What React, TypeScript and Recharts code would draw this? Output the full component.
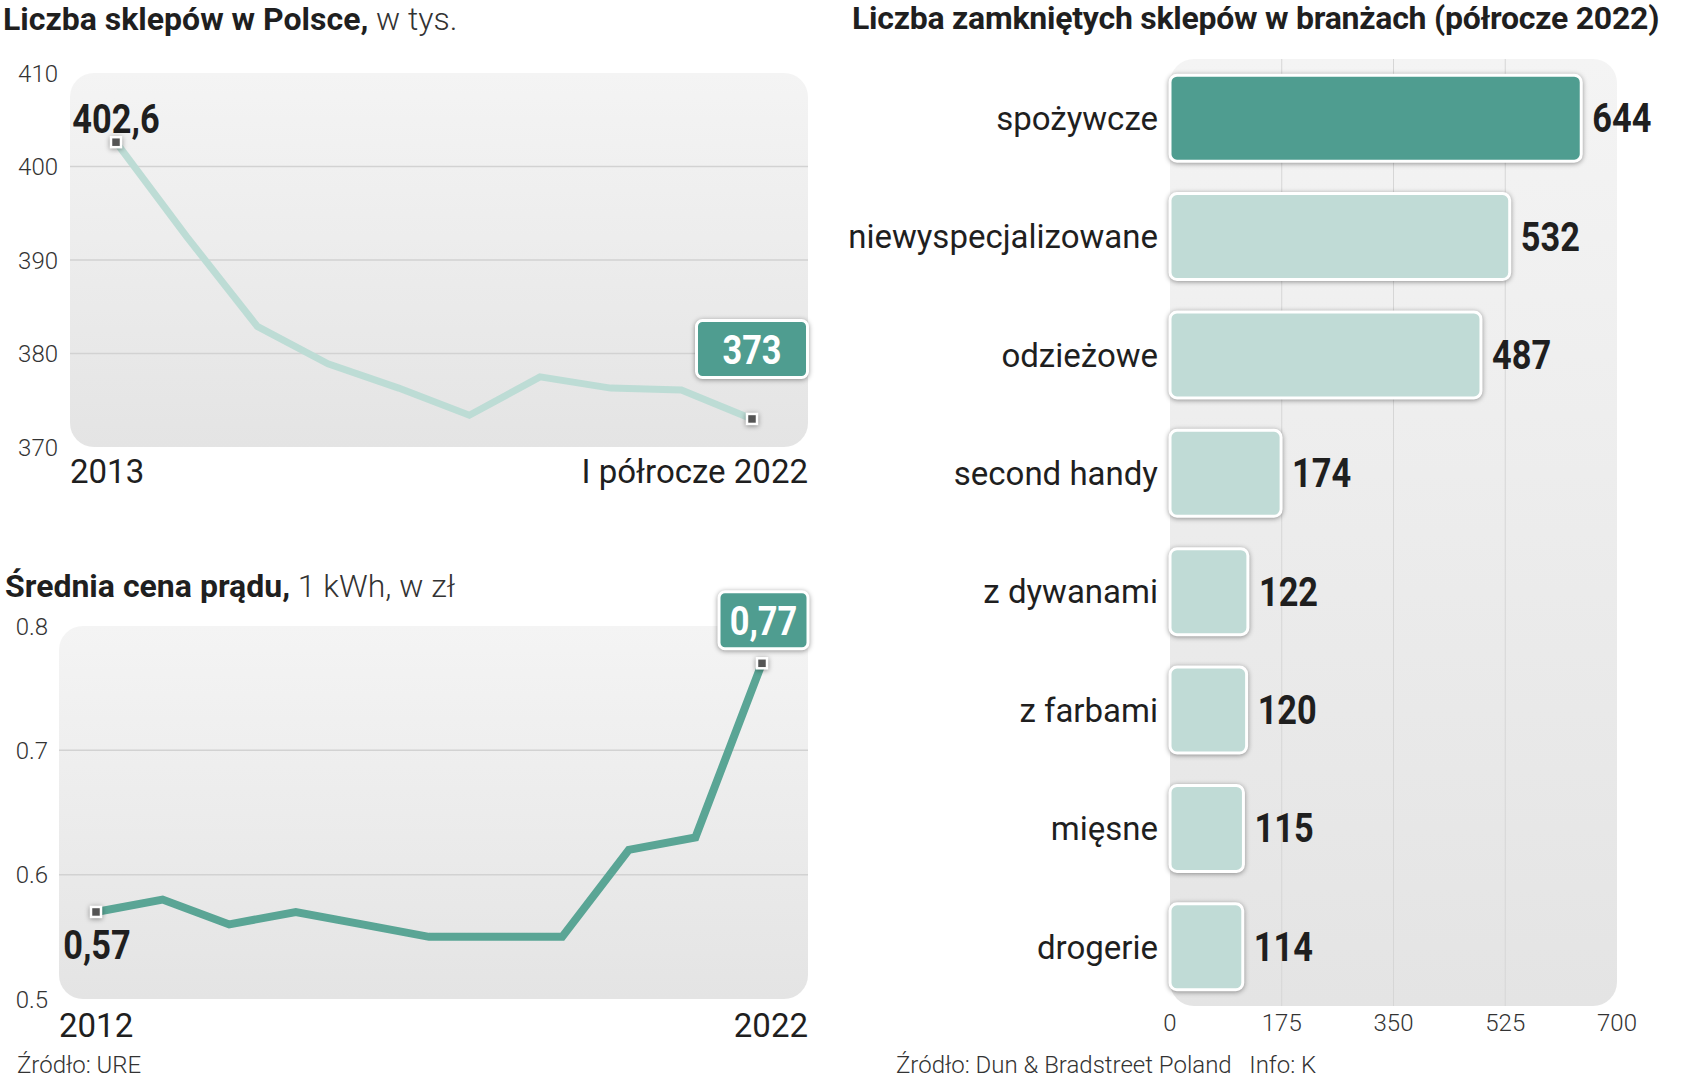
import React from "react";
import {
  Bar,
  BarChart,
  CartesianGrid,
  Cell,
  LabelList,
  Line,
  LineChart,
  ReferenceArea,
  XAxis,
  YAxis,
} from "recharts";

// Liczba sklepów w Polsce, w tys.
const lataSklepy = ["2013", "2014", "2015", "2016", "2017", "2018", "2019", "2020", "2021", "I półrocze 2022"];
const liczbaSklepow = [402.6, 392.5, 382.9, 378.9, 376.3, 373.4, 377.5, 376.3, 376.1, 373];
const ticksSklepy = [370, 380, 390, 400, 410];
const siatkaSklepy = [380, 390, 400];

// Średnia cena prądu, 1 kWh, w zł
const lataPrad = ["2012", "2013", "2014", "2015", "2016", "2017", "2018", "2019", "2020", "2021", "2022"];
const cenaPradu = [0.57, 0.58, 0.56, 0.57, 0.56, 0.55, 0.55, 0.55, 0.62, 0.63, 0.77];
const ticksPrad = [0.5, 0.6, 0.7, 0.8];
const siatkaPrad = [0.6, 0.7];

// Liczba zamkniętych sklepów w branżach (półrocze 2022)
const branze = ["spożywcze", "niewyspecjalizowane", "odzieżowe", "second handy", "z dywanami", "z farbami", "mięsne", "drogerie"];
const zamkniete = [644, 532, 487, 174, 122, 120, 115, 114];
const ticksBranze = [0, 175, 350, 525, 700];
const siatkaBranze = [175, 350, 525];

const dataSklepy = lataSklepy.map((rok, i) => ({ rok, v: liczbaSklepow[i] }));
const dataPrad = lataPrad.map((rok, i) => ({ rok, v: cenaPradu[i] }));
const dataBranze = branze.map((name, i) => ({ name, v: zamkniete[i] }));

const SANS = "Roboto, 'Noto Sans', sans-serif";
const INK = "#1f1f1f";
const SOFT = "#333";
const TEAL = "#4f9d90";
const TEAL_LINE = "#5aa595";
const MINT = "#c0dbd6";
const MINT_LINE = "#bddcd5";
const SHADOW = "drop-shadow(0px 1px 2.5px rgba(0,0,0,0.4))";
const SQUEEZE = 0.86; // bold numbers in the original are condensed

const fmt = (v: number) => String(v).replace(".", ",");

const axisTick = { fontSize: 24, fontWeight: 300, fill: SOFT, fontFamily: SANS };

function Background({ id }: { id: string }) {
  return (
    <defs>
      <linearGradient id={id} x1="0" y1="0" x2="0" y2="1">
        <stop offset="0%" stopColor="#f4f4f4" />
        <stop offset="100%" stopColor="#e4e4e4" />
      </linearGradient>
    </defs>
  );
}

// plot background, widened by the axis padding so it covers the whole plot
const roundedBg = (id: string, padL = 0, padR = 0) => (p: any) => (
  <rect
    x={p.x - padL}
    y={p.y}
    width={p.width + padL + padR}
    height={p.height}
    rx={24}
    ry={24}
    fill={`url(#${id})`}
  />
);

function BoldNum({ x, y, text, fill = INK, anchor = "middle" }: { x: number; y: number; text: string; fill?: string; anchor?: string }) {
  return (
    <text
      transform={`translate(${x} ${y}) scale(${SQUEEZE} 1)`}
      textAnchor={anchor as any}
      fontSize={40}
      fontWeight={700}
      fill={fill}
      fontFamily={SANS}
    >
      {text}
    </text>
  );
}

// first / last category label pinned to the plot edges
const edgeTick = (first: string, last: string, padL: number, padR: number, dy: number) => (p: any) => {
  const val = p.payload.value;
  const isLast = val === last;
  if (val !== first && !isLast) return <g />;
  return (
    <text
      x={isLast ? p.x + padR : p.x - padL}
      y={p.y}
      dy={dy}
      textAnchor={isLast ? "end" : "start"}
      fontSize={33}
      fontWeight={400}
      fill={INK}
      fontFamily={SANS}
    >
      {val}
    </text>
  );
};

function Marker({ cx, cy }: { cx: number; cy: number }) {
  return (
    <rect x={cx - 5} y={cy - 5} width={10} height={10} fill="#555" stroke="#fff" strokeWidth={2.5} style={{ filter: SHADOW }} />
  );
}

function ValueBox({ cx, cy, w, h, text }: { cx: number; cy: number; w: number; h: number; text: string }) {
  return (
    <g>
      <rect x={cx - w / 2} y={cy - h / 2} width={w} height={h} rx={6} fill={TEAL} stroke="#fff" strokeWidth={3} style={{ filter: SHADOW }} />
      <BoldNum x={cx} y={cy + 15} text={text} fill="#fff" />
    </g>
  );
}

const dotSklepy = (p: any) => {
  const { cx, cy, index, value } = p;
  const n = liczbaSklepow.length;
  if (index === 0) {
    return (
      <g key={`d${index}`}>
        <BoldNum x={cx} y={cy - 9} text={fmt(value)} />
        <Marker cx={cx} cy={cy} />
      </g>
    );
  }
  if (index === n - 1) {
    return (
      <g key={`d${index}`}>
        <ValueBox cx={cx} cy={cy - 70} w={111} h={57} text={fmt(value)} />
        <Marker cx={cx} cy={cy} />
      </g>
    );
  }
  return <g key={`d${index}`} />;
};

const dotPrad = (p: any) => {
  const { cx, cy, index, value } = p;
  const n = cenaPradu.length;
  if (index === 0) {
    return (
      <g key={`d${index}`}>
        <BoldNum x={cx + 1} y={cy + 47} text={fmt(value)} />
        <Marker cx={cx} cy={cy} />
      </g>
    );
  }
  if (index === n - 1) {
    return (
      <g key={`d${index}`}>
        <ValueBox cx={cx + 1.5} cy={cy - 43} w={89} h={57} text={fmt(value)} />
        <Marker cx={cx} cy={cy} />
      </g>
    );
  }
  return <g key={`d${index}`} />;
};

const barShape = (p: any) => (
  <rect
    x={p.x}
    y={p.y}
    width={p.width}
    height={p.height}
    rx={7}
    ry={7}
    fill={p.fill}
    stroke="#fff"
    strokeWidth={3}
    style={{ filter: SHADOW }}
  />
);

const barLabel = (p: any) => {
  const vb = p.viewBox || p;
  const x = (vb.x ?? p.x) + (vb.width ?? p.width) + 11;
  const y = (vb.y ?? p.y) + (vb.height ?? p.height) / 2 + 14;
  return <BoldNum x={x} y={y} text={String(p.value)} anchor="start" />;
};

const PAD1 = { left: 46, right: 56 };
const PAD2 = { left: 37, right: 46 };

function SklepyChart() {
  return (
    <LineChart width={830} height={500} data={dataSklepy} margin={{ top: 73, right: 22, bottom: 0, left: 0 }}>
      <Background id="bg1" />
      <ReferenceArea y1={370} y2={410} zIndex={-200} shape={roundedBg("bg1", PAD1.left, PAD1.right)} />
      <CartesianGrid vertical={false} horizontalValues={siatkaSklepy} stroke="#d2d2d2" strokeWidth={1.5} />
      <XAxis
        dataKey="rok"
        type="category"
        padding={PAD1}
        ticks={[lataSklepy[0], lataSklepy[lataSklepy.length - 1]]}
        interval={0}
        height={53}
        tickSize={0}
        tickMargin={0}
        axisLine={false}
        tickLine={false}
        tick={edgeTick(lataSklepy[0], lataSklepy[lataSklepy.length - 1], PAD1.left, PAD1.right, 36)}
      />
      <YAxis
        type="number"
        domain={[370, 410]}
        ticks={ticksSklepy}
        interval={0}
        width={70}
        tickSize={0}
        tickMargin={12}
        axisLine={false}
        tickLine={false}
        tick={axisTick}
      />
      <Line
        type="linear"
        dataKey="v"
        stroke={MINT_LINE}
        strokeWidth={7}
        dot={dotSklepy}
        activeDot={false}
        isAnimationActive={false}
      />
    </LineChart>
  );
}

function PradChart() {
  return (
    <LineChart width={830} height={540} data={dataPrad} margin={{ top: 86, right: 22, bottom: 0, left: 0 }}>
      <Background id="bg2" />
      <ReferenceArea y1={0.5} y2={0.8} zIndex={-200} shape={roundedBg("bg2", PAD2.left, PAD2.right)} />
      <CartesianGrid vertical={false} horizontalValues={siatkaPrad} stroke="#d2d2d2" strokeWidth={1.5} />
      <XAxis
        dataKey="rok"
        type="category"
        padding={PAD2}
        ticks={[lataPrad[0], lataPrad[lataPrad.length - 1]]}
        interval={0}
        height={81}
        tickSize={0}
        tickMargin={0}
        axisLine={false}
        tickLine={false}
        tick={edgeTick(lataPrad[0], lataPrad[lataPrad.length - 1], PAD2.left, PAD2.right, 38)}
      />
      <YAxis
        type="number"
        domain={[0.5, 0.8]}
        ticks={ticksPrad}
        interval={0}
        width={59}
        tickSize={0}
        tickMargin={11}
        axisLine={false}
        tickLine={false}
        tick={axisTick}
        tickFormatter={(v: number) => v.toFixed(1)}
      />
      <Line
        type="linear"
        dataKey="v"
        stroke={TEAL_LINE}
        strokeWidth={8}
        dot={dotPrad}
        activeDot={false}
        isAnimationActive={false}
      />
    </LineChart>
  );
}

function BranzeChart() {
  return (
    <BarChart
      layout="vertical"
      width={842}
      height={1080}
      data={dataBranze}
      margin={{ top: 59, right: 67, bottom: 0, left: 0 }}
      barCategoryGap="13.7%"
    >
      <Background id="bg3" />
      <ReferenceArea x1={0} x2={700} zIndex={-200} shape={roundedBg("bg3")} />
      <CartesianGrid horizontal={false} verticalValues={siatkaBranze} stroke="#d6d6d6" />
      <XAxis
        type="number"
        domain={[0, 700]}
        ticks={ticksBranze}
        interval={0}
        height={74}
        tickSize={0}
        tickMargin={8}
        axisLine={false}
        tickLine={false}
        tick={axisTick}
      />
      <YAxis
        type="category"
        dataKey="name"
        interval={0}
        width={328}
        tickSize={0}
        tickMargin={12}
        axisLine={false}
        tickLine={false}
        tick={{ fontSize: 33, fill: INK, fontFamily: SANS }}
      />
      <Bar dataKey="v" fill={MINT} shape={barShape} isAnimationActive={false}>
        {dataBranze.map((d, i) => (
          <Cell key={d.name} fill={i === 0 ? TEAL : MINT} />
        ))}
        <LabelList dataKey="v" position="right" content={barLabel} />
      </Bar>
    </BarChart>
  );
}

const titleStyle: React.CSSProperties = {
  position: "absolute",
  fontSize: 32,
  lineHeight: "normal",
  whiteSpace: "nowrap",
};

export default function App() {
  return (
    <div
      style={{
        position: "absolute",
        left: 0,
        top: 0,
        width: 1684,
        height: 1080,
        background: "#fff",
        overflow: "hidden",
        fontFamily: SANS,
        color: INK,
      }}
    >
      <div style={{ position: "absolute", left: 0, top: 0 }}>
        <SklepyChart />
      </div>
      <div style={{ position: "absolute", left: 0, top: 540 }}>
        <PradChart />
      </div>
      <div style={{ position: "absolute", left: 842, top: 0 }}>
        <BranzeChart />
      </div>

      <div style={{ ...titleStyle, left: 3, top: 0 }}>
        <span style={{ fontWeight: 700 }}>Liczba sklepów w Polsce,</span>
        <span style={{ fontWeight: 300, color: SOFT }}> w tys.</span>
      </div>
      <div style={{ ...titleStyle, left: 5, top: 567 }}>
        <span style={{ fontWeight: 700 }}>Średnia cena prądu,</span>
        <span style={{ fontWeight: 300, color: SOFT }}> 1 kWh, w zł</span>
      </div>
      <div style={{ ...titleStyle, left: 852, top: -1, fontWeight: 700, letterSpacing: -0.25 }}>
        Liczba zamkniętych sklepów w branżach (półrocze 2022)
      </div>

      <div style={{ position: "absolute", left: 17, top: 1051, fontSize: 24, lineHeight: "normal", fontWeight: 300, color: SOFT }}>
        Źródło: URE
      </div>
      <div
        style={{
          position: "absolute",
          left: 896,
          top: 1051,
          fontSize: 24,
          lineHeight: "normal",
          fontWeight: 300,
          color: SOFT,
          whiteSpace: "pre",
        }}
      >
        {"Źródło: Dun & Bradstreet Poland   Info: K"}
      </div>
    </div>
  );
}
